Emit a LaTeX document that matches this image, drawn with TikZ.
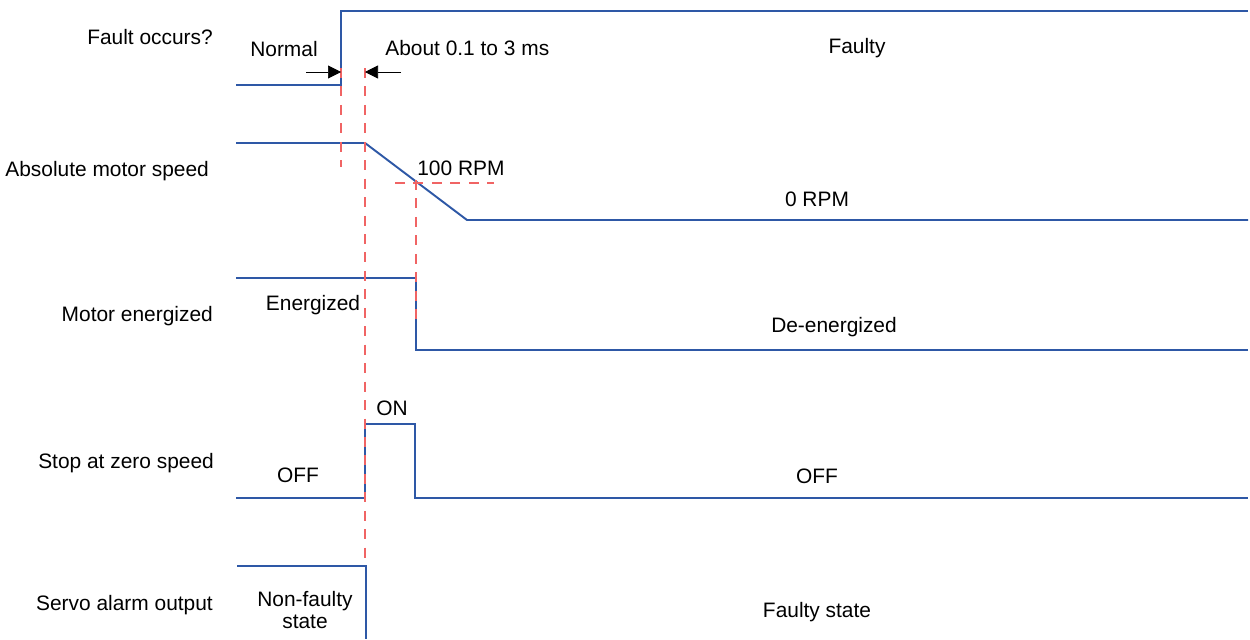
\documentclass[tikz,border=0pt]{standalone}
\usepackage{fontspec}
\setmainfont{Liberation Sans}
\usetikzlibrary{arrows.meta}
\definecolor{sigblue}{RGB}{46,88,166}
\definecolor{markred}{RGB}{240,100,100}
\tikzset{
  signal/.style = {sigblue,line width=1.1pt},
  marker/.style = {markred,line width=0.6pt,dash pattern=on 5.7pt off 4.8pt},
  dimarr/.style = {-{Triangle[length=2.6mm,width=2.6mm]},thin,black},
  signame/.style = {anchor=east,font=\fontsize{11.9}{14}\selectfont},
  state/.style = {font=\fontsize{11.9}{14}\selectfont,align=center,inner sep=0pt}
}

\begin{document}
\begin{tikzpicture}[x=0.02cm,y=-0.02cm]
  \useasboundingbox (0,0) rectangle (1250,639);
  % signal names
  \node[signame] (nfault) at (219,37)  {Fault occurs?};
  \node[signame] (nspeed) at (215,171) {Absolute motor speed};
  \node[signame] (nmotor) at (219,316) {Motor energized};
  \node[signame] (nstop)  at (220,463) {Stop at zero speed};
  \node[signame] (nalarm) at (219,605) {Servo alarm output};
  % waveforms
  \draw[signal] (236,85) -- (341,85) -- (341,11) -- (1248,11);
  \draw[signal] (236,143) -- (365,143) -- (467,220) -- (1248,220);
  \draw[signal] (236,278) -- (416,278) -- (416,350) -- (1248,350);
  \draw[signal] (236,498) -- (365,498) -- (365,424) -- (415,424) -- (415,498) -- (1248,498);
  \draw[signal] (237,566) -- (366,566) -- (366,639);
  % timing markers
  \coordinate (tfault) at (341,68);
  \coordinate (tstop)  at (365,68);
  \coordinate (trpm)   at (416,180);
  \draw[marker] (tfault) -- (341,167);
  \draw[marker] (tstop)  -- (365,566);
  \draw[marker] (395,183) -- (494,183);
  \draw[marker] (trpm) -- (416,322);
  \coordinate (anorm)  at (306,72);
  \coordinate (adelay) at (401,72);
  \draw[dimarr] (anorm) -- (tfault |- anorm);
  \draw[dimarr] (adelay) -- (tstop |- adelay);
  % states
  \node[state] (snormal)  at (284,49)  {Normal};
  \node[state,anchor=west] (sdelay) at (385,48) {About 0.1 to 3 ms};
  \node[state] (sfaulty)  at (857,48)  {Faulty};
  \node[state,anchor=west] (srpm) at (417,168) {100 RPM};
  \node[state] (szero)    at (817,199) {0 RPM};
  \node[state] (sener)    at (313,305) {Energized};
  \node[state] (sdeener)  at (834,327) {De-energized};
  \node[state] (son)      at (392,408) {ON};
  \node[state] (soff)     at (298,475) {OFF};
  \node[state] (soffb)    at (817,476) {OFF};
  \node[state] (snonf)    at (305,610) {Non-faulty\\[-1pt]state};
  \node[state] (sfstate)  at (817,612) {Faulty state};
\end{tikzpicture}
\end{document}
